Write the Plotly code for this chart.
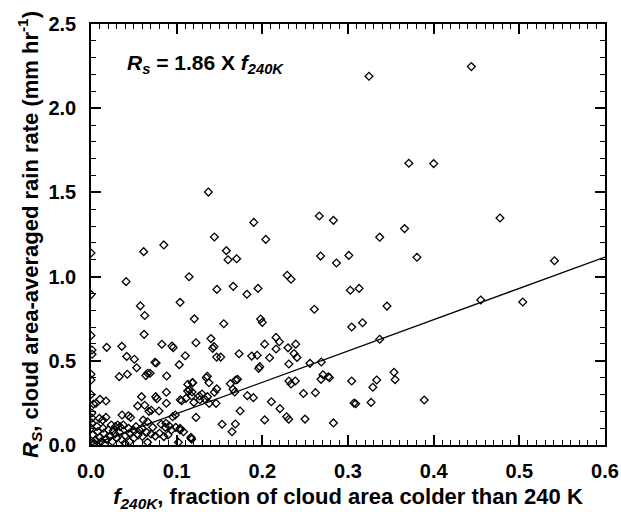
import plotly.graph_objects as go

# Fraction of cloud area colder than 240 K
f240k = [
    0.3245, 0.444, 0.137, 0.371, 0.400, 0.2665, 0.283, 0.4774, 0.190,
    0.144, 0.204, 0.337, 0.366, 0.0615, 0.085, 0.158, 0.160, 0.170,
    0.268, 0.2865, 0.301, 0.3805, 0.541, 0.041, 0.1145, 0.229, 0.2335,
    0.147, 0.166, 0.182, 0.195, 0.3027, 0.313, 0.455, 0.504,
    0.0576, 0.0627, 0.104, 0.1206, 0.2607, 0.3455, 0.155, 0.198, 0.200,
    0.3043, 0.317, 0.062, 0.337, 0.0, 0.0, 0.0,
    0.0183, 0.0360, 0.0827, 0.0945, 0.096, 0.0417, 0.0506, 0.0533, 0.0747, 0.0760,
    0.110, 0.103, 0.1225, 0.140, 0.1436, 0.142, 0.1467, 0.1514, 0.1728, 0.1876, 0.194,
    0.1957, 0.2027, 0.2085, 0.216, 0.2198, 0.216, 0.230, 0.239, 0.237, 0.2405,
    0.197, 0.231, 0.2556, 0.2688, 0.2708, 0.2685, 0.277, 0.2785, 0.3043,
    0.3537, 0.355, 0.3335, 0.329, 0.248, 0.262, 0.307, 0.309, 0.327,
    0.2498, 0.283, 0.389, 0.231, 0.2335, 0.2385,
    0.2105, 0.2206, 0.2027, 0.2284, 0.2307,
    0.1183, 0.1358, 0.1345, 0.1377, 0.1626, 0.169, 0.171,
    0.1658, 0.1677, 0.1467, 0.144, 0.1175, 0.1264, 0.1296, 0.136,
    0.120, 0.127, 0.1327, 0.138, 0.146, 0.1825, 0.1895, 0.174, 0.1226, 0.153, 0.1685,
    0.1646, 0.1167, 0.033, 0.0424, 0.066, 0.0689, 0.064, 0.0883,
    0.0012, 0.0012, 0.0, 0.0, 0.0105, 0.0175, 0.003, 0.0058,
    0.059, 0.0755, 0.077, 0.088, 0.088, 0.0545, 0.0627, 0.0704, 0.0677, 0.0794,
    0.1043, 0.1059, 0.1109, 0.1128, 0.1148, 0.118, 0.1187, 0.113,
    0.0175, 0.0362, 0.0436, 0.0463, 0.0136, 0.0097,
    0.0237, 0.0284, 0.0311, 0.0339, 0.0377, 0.044, 0.0494, 0.0525, 0.0564, 0.0595,
    0.061, 0.066, 0.072, 0.075, 0.082, 0.0875, 0.0868, 0.0914,
    0.094, 0.099, 0.104, 0.0953, 0.0984, 0.108, 0.1167, 0.104, 0.1175,
    0.0397, 0.066, 0.102, 0.001, 0.001, 0.0, 0.0,
    0.002, 0.005, 0.008, 0.010, 0.012, 0.015, 0.018, 0.020, 0.022, 0.025,
    0.028, 0.030, 0.033, 0.036, 0.004, 0.007, 0.014, 0.026, 0.040, 0.045,
    0.050, 0.055, 0.060, 0.065, 0.070, 0.080, 0.085, 0.090, 0.003, 0.001,
    0.016, 0.045,
]

# Cloud area-averaged rain rate (mm/hr)
rain_rate = [
    2.19, 2.247, 1.502, 1.673, 1.671, 1.360, 1.334, 1.348, 1.322,
    1.235, 1.221, 1.234, 1.285, 1.148, 1.188, 1.154, 1.100, 1.106,
    1.122, 1.081, 1.126, 1.115, 1.094, 0.970, 0.999, 1.008, 0.984,
    0.924, 0.942, 0.895, 0.930, 0.919, 0.930, 0.861, 0.849,
    0.826, 0.769, 0.847, 0.749, 0.806, 0.825, 0.720, 0.748, 0.728,
    0.701, 0.726, 0.657, 0.628, 1.14, 0.893, 0.65,
    0.580, 0.586, 0.598, 0.588, 0.578, 0.526, 0.509, 0.459, 0.491, 0.487,
    0.530, 0.477, 0.607, 0.632, 0.584, 0.574, 0.522, 0.522, 0.542, 0.528, 0.533,
    0.455, 0.599, 0.518, 0.639, 0.613, 0.570, 0.577, 0.599, 0.543, 0.520,
    0.465, 0.481, 0.485, 0.493, 0.417, 0.390, 0.405, 0.400, 0.380,
    0.432, 0.388, 0.386, 0.343, 0.306, 0.311, 0.249, 0.245, 0.253,
    0.154, 0.131, 0.267, 0.380, 0.362, 0.380,
    0.257, 0.216, 0.149, 0.168, 0.153,
    0.370, 0.408, 0.400, 0.370, 0.364, 0.386, 0.390,
    0.331, 0.315, 0.333, 0.313, 0.291, 0.291, 0.303, 0.287,
    0.253, 0.269, 0.273, 0.247, 0.247, 0.293, 0.281, 0.202, 0.164, 0.123, 0.125,
    0.079, 0.040, 0.406, 0.420, 0.426, 0.426, 0.412, 0.410,
    0.564, 0.539, 0.42, 0.386, 0.271, 0.261, 0.243, 0.248,
    0.287, 0.287, 0.275, 0.313, 0.248, 0.232, 0.236, 0.206, 0.200, 0.202,
    0.269, 0.263, 0.277, 0.321, 0.327, 0.315, 0.370, 0.360,
    0.164, 0.178, 0.174, 0.164, 0.148, 0.158,
    0.119, 0.109, 0.119, 0.109, 0.119, 0.099, 0.089, 0.109, 0.089, 0.099,
    0.148, 0.138, 0.105, 0.053, 0.123, 0.129, 0.105, 0.113,
    0.089, 0.105, 0.099, 0.168, 0.178, 0.079, 0.046, 0.089, 0.034,
    0.012, 0.016, 0.016, 0.19, 0.16, 0.30, 0.10,
    0.06, 0.03, 0.08, 0.045, 0.02, 0.07, 0.035, 0.09, 0.05, 0.02,
    0.065, 0.04, 0.075, 0.03, 0.01, 0.11, 0.10, 0.085, 0.055, 0.07,
    0.04, 0.06, 0.05, 0.075, 0.065, 0.07, 0.05, 0.06, 0.005, 0.13,
    0.005, 0.02,
]

# Fitted line through the origin: Rs = slope * f240K
slope = 1.86
fit_x = [0.0, 0.6]
fit_y = [slope * v for v in fit_x]

x_ticks = [0.0, 0.1, 0.2, 0.3, 0.4, 0.5, 0.6]
y_ticks = [0.0, 0.5, 1.0, 1.5, 2.0, 2.5]

font_family = "Liberation Sans, Arial, sans-serif"

fig = go.Figure()
fig.add_trace(go.Scatter(
    x=f240k, y=rain_rate, mode="markers",
    marker=dict(symbol="diamond-open", size=6, color="black",
                line=dict(width=1.3, color="black")),
    showlegend=False, cliponaxis=True,
))
fig.add_trace(go.Scatter(
    x=fit_x, y=fit_y, mode="lines",
    line=dict(color="black", width=1.3),
    showlegend=False,
))

axis_common = dict(
    showline=True, linecolor="black", linewidth=1.5, mirror="ticks",
    ticks="inside", ticklen=10, tickwidth=1.5, tickcolor="black",
    showgrid=False, zeroline=False, automargin=False,
    tickfont=dict(family=font_family, size=20, color="black", weight="bold"),
)

fig.update_xaxes(
    range=[0, 0.6], tickvals=x_ticks, ticktext=[f"{v:.1f}" for v in x_ticks],
    minor=dict(ticks="inside", ticklen=5, tickwidth=1.2, tickcolor="black", dtick=0.01, showgrid=False),
    ticklabelstandoff=7,
    title=dict(text="<b><i>f<sub>240K</sub></i>, fraction of cloud area colder than 240 K</b>",
               font=dict(family=font_family, size=22, color="black"), standoff=9),
    **axis_common,
)
fig.update_yaxes(
    range=[0, 2.5], tickvals=y_ticks, ticktext=[f"{v:.1f}" for v in y_ticks],
    minor=dict(ticks="inside", ticklen=5, tickwidth=1.2, tickcolor="black", dtick=0.1, showgrid=False),
    ticklabelstandoff=9,
    title=dict(text="<b><i>R<sub>S</sub></i>, cloud area-averaged rain rate (mm hr<sup>-1</sup>)</b>",
               font=dict(family=font_family, size=22, color="black"), standoff=4),
    **axis_common,
)

fig.add_annotation(
    x=0.04, y=2.26, xref="x", yref="y", xanchor="left", yanchor="middle",
    text="<b><i>R<sub>s</sub></i> = 1.86 X <i>f<sub>240K</sub></i></b>",
    showarrow=False, font=dict(family=font_family, size=21, color="black"),
)

fig.update_layout(
    width=621, height=512,
    margin=dict(l=91, r=16, t=24, b=67),
    plot_bgcolor="white", paper_bgcolor="white",
)

fig.write_html("out.html")
